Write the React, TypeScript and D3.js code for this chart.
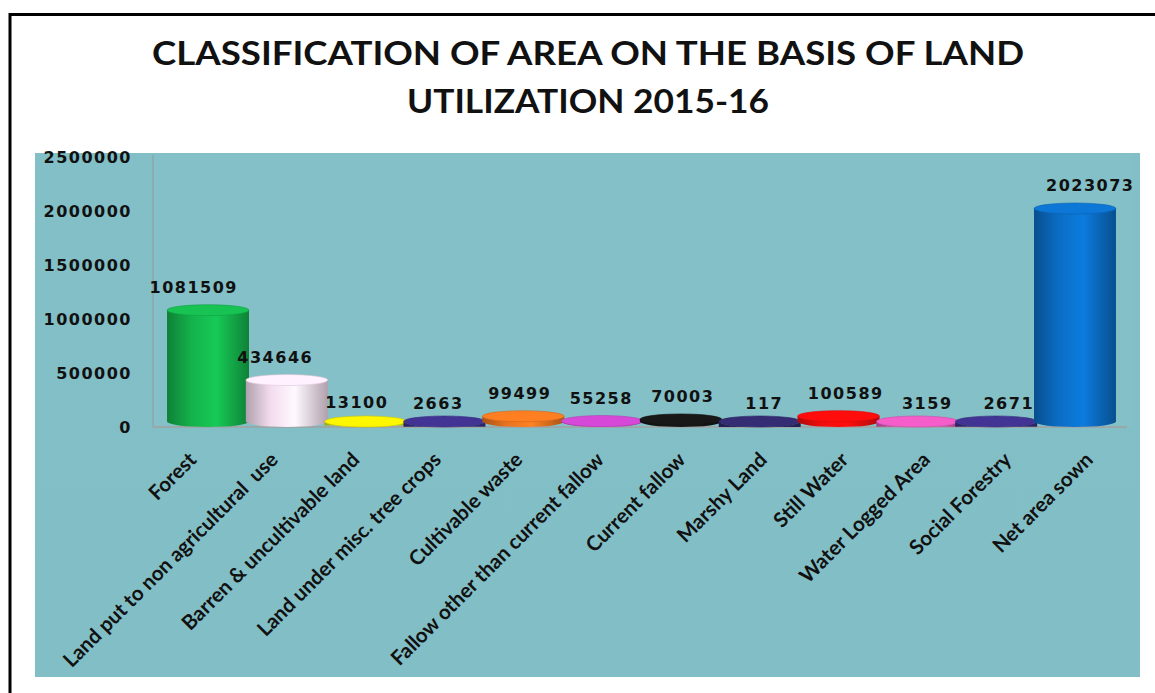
import React from "react";
import * as d3 from "d3";

const categories = [
  "Forest",
  "Land put to non agricultural  use",
  "Barren & uncultivable land",
  "Land under misc. tree crops",
  "Cultivable waste",
  "Fallow other than current fallow",
  "Current fallow",
  "Marshy Land",
  "Still Water",
  "Water Logged Area",
  "Social Forestry",
  "Net area sown",
];
const values = [1081509, 434646, 13100, 2663, 99499, 55258, 70003, 117, 100589, 3159, 2671, 2023073];
const barColors = [
  "#14b24c", "#f3dcee", "#e8e200", "#3c3088", "#e8731f", "#c443c6",
  "#161616", "#30296a", "#f20c0c", "#e055ba", "#3c3088", "#0b6dc4",
];
const yTicks = [0, 500000, 1000000, 1500000, 2000000, 2500000];
const titleLines = ["CLASSIFICATION OF AREA ON THE BASIS OF LAND", "UTILIZATION 2015-16"];

const W = 1155;
const H = 693;

export default function App() {
  const y = d3.scaleLinear().domain([0, 2500000]).range([427, 157]);
  const xBar = d3.scaleBand<string>().domain(categories).range([168.6, 1114.4]).padding(0);
  const xLab = d3.scaleBand<string>().domain(categories).range([153, 1131]).padding(0);
  const bw = xBar.bandwidth() * 1.04;
  const ry = 5.5;
  const y0 = y(0);

  const numFont = { fontFamily: "'DejaVu Sans', Verdana, sans-serif", fontWeight: 700, fontSize: 16, letterSpacing: 1.5 } as const;

  return (
    <svg width={W} height={H} style={{ position: "absolute", left: 0, top: 0, background: "#fff" }}>
      <defs>
        {barColors.map((c, i) => {
          const base = d3.color(c)!;
          const dark = d3.color(c)!.darker(0.9).formatHex();
          const light = d3.color(c)!.brighter(0.35).formatHex();
          return (
            <linearGradient key={i} id={`g${i}`} x1="0" x2="1" y1="0" y2="0">
              <stop offset="0%" stopColor={dark} />
              <stop offset="30%" stopColor={base.formatHex()} />
              <stop offset="60%" stopColor={light} />
              <stop offset="100%" stopColor={dark} />
            </linearGradient>
          );
        })}
        <linearGradient id="bg" x1="0" x2="0" y1="0" y2="1">
          <stop offset="0%" stopColor="#83bfc6" />
          <stop offset="100%" stopColor="#82bec5" />
        </linearGradient>
      </defs>

      {/* outer frame: top and left edges visible */}
      <line x1={10} x2={W} y1={14.5} y2={14.5} stroke="#000" strokeWidth={3} />
      <line x1={10} x2={10} y1={13} y2={H} stroke="#000" strokeWidth={3} />

      {/* title */}
      {titleLines.map((t, i) => (
        <text
          key={i}
          x={588}
          y={i === 0 ? 65 : 113}
          textAnchor="middle"
          textLength={i === 0 ? 872 : 362}
          lengthAdjust="spacingAndGlyphs"
          style={{ fontFamily: "Lato, 'Open Sans', sans-serif", fontWeight: 700, fontSize: 32, fill: "#111" }}
        >
          {t}
        </text>
      ))}

      {/* teal chart area */}
      <rect x={35} y={153} width={1105} height={524} fill="url(#bg)" />
      <rect x={153} y={155} width={980} height={272} fill="#86c1c8" opacity={0.5} />

      {/* axes */}
      <line x1={153} x2={153} y1={155} y2={y0} stroke="#8ea6a8" strokeWidth={1.5} />
      <line x1={153} x2={1127} y1={y0} y2={y0} stroke="#9aa8aa" strokeWidth={2} />

      {/* y tick labels */}
      {yTicks.map((t) => (
        <text key={t} x={132} y={y(t)} textAnchor="end" dominantBaseline="central" style={{ ...numFont, fill: "#111" }}>
          {t}
        </text>
      ))}

      {/* bars as cylinders */}
      {categories.map((c, i) => {
        const cx = xBar(c)! + xBar.bandwidth() / 2;
        const x0 = cx - bw / 2;
        const x1 = cx + bw / 2;
        const top = y(values[i]);
        const rx = bw / 2;
        const body = `M${x0},${top} L${x0},${y0 - ry} A${rx},${ry} 0 0 0 ${x1},${y0 - ry} L${x1},${top} Z`;
        const topCol = d3.color(barColors[i])!.brighter(0.25).formatHex();
        return (
          <g key={c}>
            <path d={body} fill={`url(#g${i})`} />
            <ellipse cx={cx} cy={Math.min(top, y0 - ry)} rx={rx} ry={ry} fill={topCol} stroke={d3.color(barColors[i])!.darker(0.3).formatHex()} strokeWidth={0.6} />
          </g>
        );
      })}

      {/* value labels */}
      {categories.map((c, i) => (
        <text
          key={c}
          x={xLab(c)! + xLab.bandwidth() / 2}
          y={y(values[i]) - 23}
          textAnchor="middle"
          dominantBaseline="central"
          style={{ ...numFont, fill: "#111" }}
        >
          {values[i]}
        </text>
      ))}

      {/* category labels */}
      {categories.map((c) => {
        const lx = xLab(c)! + xLab.bandwidth() / 2 + 4;
        const ly = 461;
        return (
          <text
            key={c}
            transform={`translate(${lx},${ly}) rotate(-45)`}
            textAnchor="end"
            style={{ fontFamily: "Lato, 'Open Sans', sans-serif", fontWeight: 700, fontSize: 20.5, fill: "#111", whiteSpace: "pre" }}
          >
            {c}
          </text>
        );
      })}
    </svg>
  );
}
